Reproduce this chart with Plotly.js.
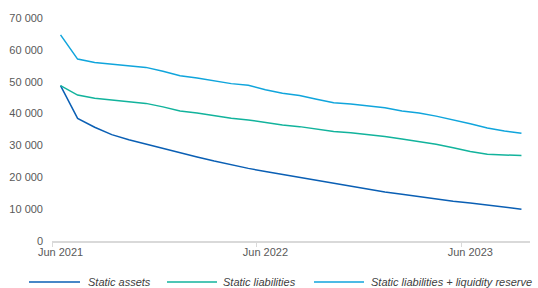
<!DOCTYPE html>
<html>
<head>
<meta charset="utf-8">
<script src="https://cdn.plot.ly/plotly-3.0.1.min.js"></script>
<style>
  html, body { margin: 0; padding: 0; background: #ffffff; }
  #chart { width: 538px; height: 288px; }
</style>
</head>
<body>
<div id="chart"></div>
<script>
// Monthly categories, Jun 2021 .. Sep 2023
const months = [
  "Jun 2021","Jul 2021","Aug 2021","Sep 2021","Oct 2021","Nov 2021","Dec 2021",
  "Jan 2022","Feb 2022","Mar 2022","Apr 2022","May 2022","Jun 2022","Jul 2022",
  "Aug 2022","Sep 2022","Oct 2022","Nov 2022","Dec 2022","Jan 2023","Feb 2023",
  "Mar 2023","Apr 2023","May 2023","Jun 2023","Jul 2023","Aug 2023","Sep 2023"
];

const staticAssets = [
  48800, 38500, 35700, 33400, 31800, 30400, 29000, 27700, 26400, 25100,
  23900, 22800, 21800, 20900, 19800, 18900, 18000, 17100, 16200, 15400,
  14700, 13900, 13200, 12500, 11900, 11300, 10600, 10000
];

const staticLiabilities = [
  48800, 45800, 44800, 44300, 43600, 43200, 42100, 40800, 40200, 39400,
  38500, 38000, 37100, 36400, 35900, 35200, 34400, 34000, 33500, 32800,
  32000, 31300, 30400, 29300, 28100, 27200, 26900, 26800
];

const liabilitiesPlusReserve = [
  64700, 57100, 56000, 55500, 55000, 54500, 53300, 51900, 51200, 50200,
  49400, 48900, 47500, 46400, 45700, 44500, 43400, 43000, 42500, 41800,
  40800, 40200, 39200, 38100, 36800, 35500, 34500, 33800
];

const seriesNames = ["Static assets", "Static liabilities", "Static liabilities + liquidity reserve"];
const seriesColors = ["#0a5fb4", "#12b39c", "#10a5dc"];
const yTicks = [0, 10000, 20000, 30000, 40000, 50000, 60000, 70000];

// Page geometry (px)
const W = 538, H = 288;
const M = { l: 52, r: 8, t: 18, b: 47 };
const plotW = W - M.l - M.r, plotH = H - M.t - M.b;
const px2x = p => (p - M.l) / plotW;
const py2y = p => (H - M.b - p) / plotH;

// Custom legend layout: [line start, line end, text start] in px, row at y
const legendRowY = 282;
const legendSlots = [[29, 80, 86], [167, 217, 221], [314, 364, 369]];

const allSeries = [staticAssets, staticLiabilities, liabilitiesPlusReserve];
const traces = allSeries.map((vals, i) => ({
  type: "scatter",
  mode: "lines",
  x: months,
  y: vals,
  name: seriesNames[i],
  line: { color: seriesColors[i], width: 1.5 },
  hoverinfo: "skip",
  showlegend: false
}));

const shapes = legendSlots.map((s, i) => ({
  type: "line", xref: "paper", yref: "paper",
  x0: px2x(s[0]), x1: px2x(s[1]), y0: py2y(legendRowY), y1: py2y(legendRowY),
  line: { color: seriesColors[i], width: 1.5 }
}));

const annotations = legendSlots.map((s, i) => ({
  xref: "paper", yref: "paper",
  x: px2x(s[2]), y: py2y(legendRowY),
  xanchor: "left", yanchor: "middle",
  text: seriesNames[i], showarrow: false,
  font: { family: "Liberation Sans, Arial, sans-serif", size: 11, color: "#404040", style: "italic" }
}));

const layout = {
  width: W,
  height: H,
  margin: M,
  paper_bgcolor: "#ffffff",
  plot_bgcolor: "#ffffff",
  separators: ". ",
  font: { family: "Liberation Sans, Arial, sans-serif", size: 11, color: "#595959" },
  showlegend: false,
  shapes: shapes,
  annotations: annotations,
  xaxis: {
    type: "category",
    range: [-0.5, months.length - 0.5],
    tickson: "boundaries",
    dtick: 12,
    tick0: 0,
    showgrid: false,
    zeroline: false,
    showline: true,
    linecolor: "#d9d9d9",
    linewidth: 1.5,
    ticks: "outside",
    ticklen: 4,
    tickcolor: "#d9d9d9",
    tickwidth: 1,
    tickangle: 0,
    tickfont: { size: 11, color: "#595959" },
    fixedrange: true
  },
  yaxis: {
    range: [0, 70000],
    tickvals: yTicks,
    tickformat: ",d",
    showgrid: false,
    zeroline: false,
    showline: false,
    ticks: "",
    ticklabelstandoff: 8,
    tickfont: { size: 11, color: "#595959" },
    fixedrange: true
  }
};

Plotly.newPlot("chart", traces, layout, { displayModeBar: false, staticPlot: true });
</script>
</body>
</html>
